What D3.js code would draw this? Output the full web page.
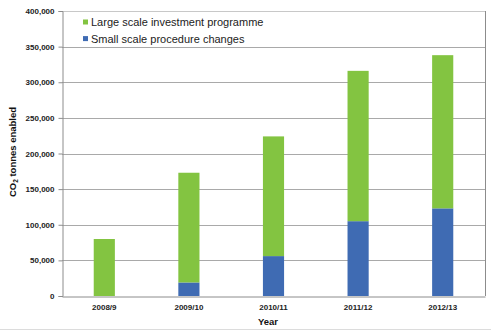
<!DOCTYPE html>
<html>
<head>
<meta charset="utf-8">
<script src="https://cdn.jsdelivr.net/npm/d3@7/dist/d3.min.js"></script>
<style>
  html, body { margin: 0; padding: 0; background: #fff; }
  svg { display: block; font-family: "Liberation Sans", Arial, sans-serif; }
</style>
</head>
<body>
<svg id="chart" width="491" height="330"></svg>
<script>
// Financial years on the x axis
const years = ["2008/9", "2009/10", "2010/11", "2011/12", "2012/13"];
// CO2 tonnes enabled, per stack segment
const smallScale = [0, 19000, 56000, 105000, 123000];
const largeScale = [80000, 154000, 168000, 211000, 215000];
// Y axis ticks
const yTicks = [0, 50000, 100000, 150000, 200000, 250000, 300000, 350000, 400000];

const seriesNames = ["Small scale procedure changes", "Large scale investment programme"];
const colors = { "Small scale procedure changes": "#3F6BB3", "Large scale investment programme": "#83C441" };

const svg = d3.select("#chart");
const margin = { left: 62, right: 6, top: 11, bottom: 34 };
const W = 491, H = 330;
const x0 = margin.left, x1 = W - margin.right;
const y0 = H - margin.bottom, y1 = margin.top;

const x = d3.scaleBand().domain(years).range([x0, x1]).paddingInner(0.75).paddingOuter(0.375);
const y = d3.scaleLinear().domain([0, 400000]).range([y0, y1]);

const rows = years.map((yr, i) => ({
  year: yr,
  "Small scale procedure changes": smallScale[i],
  "Large scale investment programme": largeScale[i]
}));
const stacked = d3.stack().keys(seriesNames)(rows);

// Gridlines
svg.append("g")
  .selectAll("line")
  .data(yTicks.filter(t => t > 0))
  .join("line")
  .attr("x1", x0).attr("x2", x1)
  .attr("y1", d => Math.round(y(d)) + 0.5).attr("y2", d => Math.round(y(d)) + 0.5)
  .attr("stroke", d => d === 400000 ? "#c8c8c8" : "#a9a9a9")
  .attr("stroke-width", 1);

// Plot frame right side
svg.append("line")
  .attr("x1", x1 + 0.5).attr("x2", x1 + 0.5)
  .attr("y1", y1).attr("y2", y0)
  .attr("stroke", "#8c8c8c");

// Bars
svg.append("g")
  .selectAll("g")
  .data(stacked)
  .join("g")
  .attr("fill", d => colors[d.key])
  .selectAll("rect")
  .data(d => d)
  .join("rect")
  .attr("x", d => x(d.data.year))
  .attr("width", x.bandwidth())
  .attr("y", d => y(d[1]))
  .attr("height", d => y(d[0]) - y(d[1]));

// Y axis
const yAxis = d3.axisLeft(y).tickValues(yTicks).tickSize(4).tickPadding(4)
  .tickFormat(d3.format(","));
const gy = svg.append("g").attr("transform", `translate(${x0 + 0.5},0)`).call(yAxis);
gy.select(".domain").attr("stroke", "#8c8c8c");
gy.selectAll(".tick line").attr("stroke", "#8c8c8c");
gy.selectAll("text").attr("font-size", 8).attr("font-weight", "bold").attr("fill", "#222");

// X axis
const xAxis = d3.axisBottom(x).tickSize(0).tickPadding(8);
const gx = svg.append("g").attr("transform", `translate(0,${y0 + 0.5})`).call(xAxis);
gx.select(".domain").attr("stroke", "#8c8c8c");
gx.selectAll("text").attr("font-size", 8).attr("font-weight", "bold").attr("fill", "#222");

// Axis titles
svg.append("text")
  .attr("x", 268).attr("y", 325)
  .attr("text-anchor", "middle")
  .attr("font-size", 9.5).attr("font-weight", "bold").attr("fill", "#111")
  .text("Year");

const yt = svg.append("text")
  .attr("transform", "translate(16,152) rotate(-90)")
  .attr("text-anchor", "middle")
  .attr("font-size", 9.5).attr("font-weight", "bold").attr("fill", "#111");
yt.append("tspan").text("CO");
yt.append("tspan").attr("font-size", 6.5).attr("dy", 2).text("2");
yt.append("tspan").attr("dy", -2).text(" tonnes enabled");

// Legend
const legendItems = ["Large scale investment programme", "Small scale procedure changes"];
const lg = svg.append("g")
  .selectAll("g")
  .data(legendItems)
  .join("g")
  .attr("transform", (d, i) => `translate(83,${22 + i * 16.6})`);
lg.append("rect").attr("x", 0).attr("y", -2.5).attr("width", 5).attr("height", 5)
  .attr("fill", d => colors[d]);
lg.append("text").attr("x", 8).attr("y", 4)
  .attr("font-size", 11).attr("fill", "#222")
  .text(d => d);

// Bottom border of the image
svg.append("line").attr("x1", 0).attr("x2", W).attr("y1", 329.5).attr("y2", 329.5)
  .attr("stroke", "#dcdcdc");
</script>
</body>
</html>
